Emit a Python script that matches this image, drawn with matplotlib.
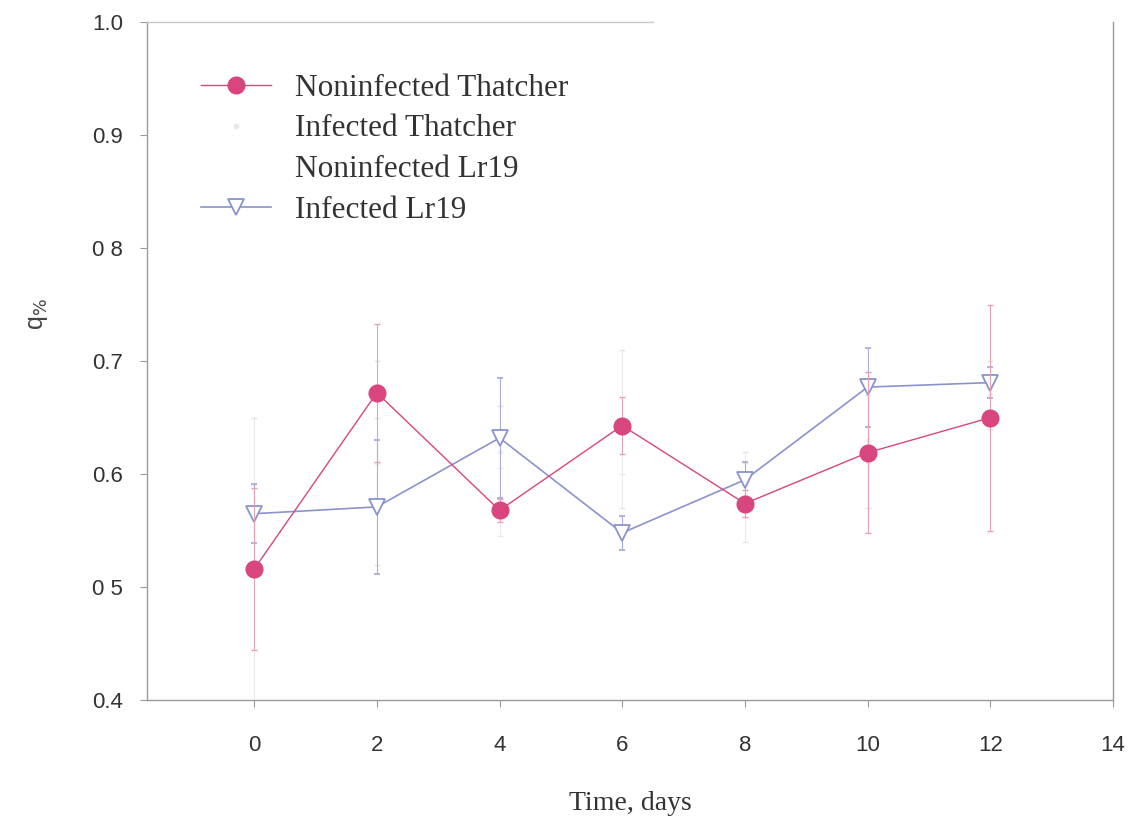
import matplotlib
matplotlib.use("Agg")
import matplotlib.pyplot as plt
from matplotlib.lines import Line2D
import numpy as np

# sampling days
days = [0, 2, 4, 6, 8, 10, 12]

# q% per group, with error bar half-widths
non_thatcher = [0.516, 0.672, 0.568, 0.643, 0.574, 0.619, 0.650]
non_thatcher_err = [0.072, 0.061, 0.010, 0.025, 0.012, 0.071, 0.100]

inf_thatcher = [0.520, 0.610, 0.620, 0.640, 0.580, 0.630, 0.670]
inf_thatcher_err = [0.130, 0.090, 0.040, 0.070, 0.040, 0.060, 0.030]

non_lr19 = [0.550, 0.630, 0.575, 0.620, 0.600, 0.640, 0.660]
non_lr19_err = [0.040, 0.020, 0.030, 0.020, 0.010, 0.030, 0.020]

inf_lr19 = [0.565, 0.571, 0.632, 0.548, 0.595, 0.677, 0.681]
inf_lr19_err = [0.026, 0.059, 0.053, 0.015, 0.016, 0.035, 0.014]

labels = ["Noninfected Thatcher", "Infected Thatcher", "Noninfected Lr19", "Infected Lr19"]

fig = plt.figure(figsize=(11.38, 8.17), dpi=100)
ax = fig.add_axes([0.129, 0.143, 0.849, 0.830])

pink = "#d9457f"
blue = "#8a93cc"

ax.errorbar(days, non_thatcher, yerr=non_thatcher_err, color=pink, ecolor="#e6a0b8",
            elinewidth=0.8, capsize=2, lw=1.0, marker="o", ms=12, mfc=pink, mec=pink,
            zorder=4)
ax.errorbar(days, inf_thatcher, yerr=inf_thatcher_err, color="white", ecolor="#e4e4e4",
            elinewidth=0.6, capsize=2, lw=0.6, marker="o", ms=3, mfc="#f0f0f0", mec="#f0f0f0",
            zorder=2)
ax.errorbar(days, non_lr19, yerr=non_lr19_err, color="white", ecolor="#e8e8e8",
            elinewidth=0.6, capsize=2, lw=0.6, marker="", zorder=2)
ax.errorbar(days, inf_lr19, yerr=inf_lr19_err, color=blue, ecolor="#a8aed8",
            elinewidth=0.8, capsize=2, lw=1.2, marker="v", ms=11, mfc="white", mec=blue,
            mew=1.3, zorder=3)

ax.set_xlim(-1.75, 14)
ax.set_ylim(0.4, 1.0)
ax.set_xticks(np.arange(0, 15, 2))
ax.set_yticks([0.4, 0.5, 0.6, 0.7, 0.8, 0.9, 1.0])
ax.set_yticklabels(["0.4", "0 5", "0.6", "0.7", "0 8", "0.9", "1.0"])

for s in ["left", "bottom", "right", "top"]:
    ax.spines[s].set_color("#9a9a9a")
    ax.spines[s].set_linewidth(1.0)
ax.spines["top"].set_bounds(-1.75, 6.5)
ax.spines["top"].set_color("#c8c8c8")

ax.tick_params(axis="both", direction="out", length=5, color="#9a9a9a",
               labelsize=16, labelcolor="#333333")
ax.tick_params(axis="x", pad=20)
ax.tick_params(axis="y", pad=12)
for t in ax.get_xticklabels() + ax.get_yticklabels():
    t.set_family("Liberation Sans")

ax.set_xlabel("Time, days", fontsize=20, family="Liberation Serif", color="#333333", labelpad=25)
ax.set_ylabel(r"q$_{\%}$", fontsize=18, family="Liberation Sans", color="#444444")
ax.yaxis.set_label_coords(-0.1, 0.57)

handles = [
    Line2D([0], [0], color=pink, lw=1.0, marker="o", ms=12, mfc=pink, mec=pink),
    Line2D([0], [0], color="white", lw=0.6, marker="o", ms=3, mfc="#e8e8e8", mec="#e8e8e8"),
    Line2D([0], [0], color="white", lw=0.6),
    Line2D([0], [0], color=blue, lw=1.2, marker="v", ms=11, mfc="white", mec=blue, mew=1.3),
]
leg = ax.legend(handles, labels, loc="upper left", bbox_to_anchor=(0.027, 0.965), frameon=False,
                prop={"family": "Liberation Serif", "size": 22.5}, handlelength=2.25,
                handletextpad=0.75, labelspacing=0.37, numpoints=1)
for txt in leg.get_texts():
    txt.set_color("#333333")

fig.savefig("out.png", dpi=100)
